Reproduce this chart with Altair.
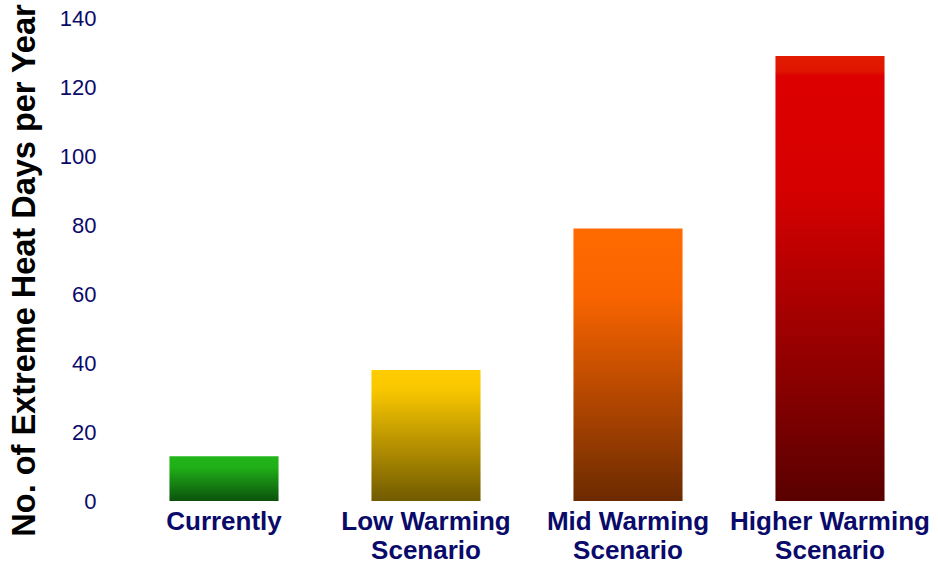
import altair as alt
import pandas as pd

categories = ["Currently", "Low Warming Scenario", "Mid Warming Scenario", "Higher Warming Scenario"]
values = [13, 38, 79, 129]

# gradient stops per bar (top -> bottom)
gradients = [
    [(0.0, "#22b51a"), (0.25, "#20af18"), (1.0, "#0b520c")],
    [(0.0, "#ffcc00"), (0.15, "#f9c700"), (1.0, "#715a00")],
    [(0.0, "#ff6a00"), (0.25, "#f96400"), (1.0, "#6c2a00")],
    [(0.0, "#e21c00"), (0.035, "#e01400"), (0.045, "#dd0000"), (0.3, "#d60000"), (1.0, "#5a0000")],
]

df = pd.DataFrame({"cat": categories, "val": values})

navy = "#0a0a6a"
font = "Liberation Sans"

xenc = alt.X(
    "cat:N",
    sort=categories,
    scale=alt.Scale(paddingInner=0.46, paddingOuter=0.23),
    axis=alt.Axis(
        title=None, labelAngle=0, domain=False, ticks=False, grid=False, labelFont=font,
        labelFontSize=26, labelFontWeight="bold", labelColor=navy,
        labelPadding=7, labelLineHeight=29, labelBaseline="top", labelLimit=400,
        labelExpr="indexof(datum.label, ' Scenario') > 0 ? [replace(datum.label, ' Scenario', ''), 'Scenario'] : datum.label",
    ),
)
yenc = alt.Y(
    "val:Q",
    scale=alt.Scale(domain=[0, 140], nice=False),
    axis=alt.Axis(
        title="No. of Extreme Heat Days per Year", values=list(range(0, 141, 20)),
        domain=False, ticks=False, grid=False, labelFont=font, labelFontSize=22,
        labelColor=navy, labelPadding=27, titleFont=font, titleFontSize=32.5,
        titleFontWeight="bold", titleColor="#000000", titleX=-99, titleY=252,
        titleBaseline="middle", titleAlign="center", titleAngle=-90,
    ),
)

layers = []
for cat, stops in zip(categories, gradients):
    grad = alt.Gradient(
        gradient="linear", x1=0, x2=0, y1=0, y2=1,
        stops=[alt.GradientStop(offset=o, color=c) for o, c in stops],
    )
    layers.append(
        alt.Chart(df).transform_filter(alt.datum.cat == cat)
        .mark_bar(color=grad)
        .encode(x=xenc, y=yenc)
    )

chart = alt.layer(*layers).properties(
    width=808, height=483,
    autosize=alt.AutoSizeParams(type="none"),
    padding={"left": 123, "top": 18, "right": 7, "bottom": 64},
    view=alt.ViewBackground(stroke="transparent", strokeWidth=0, fill="white"),
).configure_view(strokeWidth=0, stroke="transparent", strokeOpacity=0).configure_axis(
    grid=False
).configure(background="white")

chart.save("out.html", embed_options={"renderer": "svg", "actions": False})
